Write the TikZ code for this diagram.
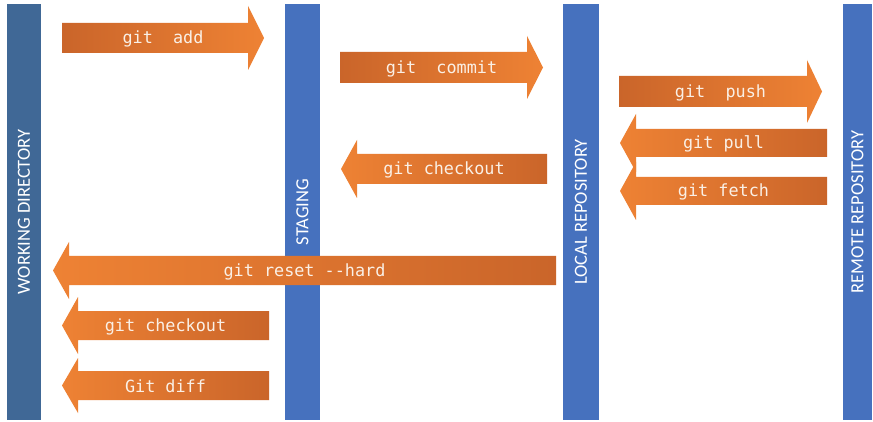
\documentclass[tikz,border=0pt]{standalone}
\usepackage{fontspec}
\newfontfamily\cmdfont{DejaVu Sans Mono}
\newfontfamily\labfont{Carlito}
\definecolor{wdblue}{RGB}{64,104,150}
\definecolor{barblue}{RGB}{70,113,190}
\definecolor{orlight}{RGB}{238,130,52}
\definecolor{ordark}{RGB}{202,101,42}
\definecolor{cmdtext}{RGB}{250,240,230}
\begin{document}
\begin{tikzpicture}[x=1pt,y=-1pt,
  bar/.style={rectangle, inner sep=0pt, rotate=90, minimum width=416pt, text=white,
    font=\labfont\fontsize{18.5}{22}\selectfont},
  cmd/.style={text=cmdtext, inner sep=0pt, font=\cmdfont\fontsize{16.8}{20}\selectfont},
  rarr/.style={left color=ordark, right color=orlight},
  larr/.style={left color=orlight, right color=ordark}]
\useasboundingbox[fill=white] (0,0) rectangle (873,422);
% bars
\node[bar, fill=wdblue, minimum height=34pt] (wd) at (24,212) {WORKING DIRECTORY};
\node[bar, fill=barblue, minimum height=35pt] (stg) at (302.5,212) {STAGING};
\node[bar, fill=barblue, minimum height=36pt] (loc) at (581,212) {LOCAL REPOSITORY};
\node[bar, fill=barblue, minimum height=29pt] (rem) at (857.5,212) {REMOTE REPOSITORY};
% arrows
\shade[rarr] (62,23) -- (248,23) -- (248,6) -- (264,38) -- (248,70) -- (248,53) -- (62,53) -- cycle;
\shade[rarr] (340,52) -- (527,52) -- (527,36) -- (543,67.5) -- (527,99) -- (527,83) -- (340,83) -- cycle;
\shade[larr] (547,154) -- (357,154) -- (357,140) -- (341,169) -- (357,198) -- (357,184) -- (547,184) -- cycle;
\shade[rarr] (619,76) -- (807,76) -- (807,60) -- (822,91.5) -- (807,123) -- (807,107) -- (619,107) -- cycle;
\shade[larr] (827,129) -- (636,129) -- (636,114) -- (620,143) -- (636,172) -- (636,157) -- (827,157) -- cycle;
\shade[larr] (827,177) -- (636,177) -- (636,162) -- (620,191) -- (636,220) -- (636,205) -- (827,205) -- cycle;
\shade[larr] (556,256) -- (69,256) -- (69,242) -- (53,270.5) -- (69,299) -- (69,285) -- (556,285) -- cycle;
\shade[larr] (269,311) -- (78,311) -- (78,297) -- (62,325.5) -- (78,354) -- (78,340) -- (269,340) -- cycle;
\shade[larr] (269,371) -- (78,371) -- (78,358) -- (62,385.5) -- (78,413) -- (78,400) -- (269,400) -- cycle;
% labels
\node[cmd] (add) at (163,39) {git\ \ add};
\node[cmd] (commit) at (441.5,68.5) {git\ \ commit};
\node[cmd] (chk1) at (444,170) {git checkout};
\node[cmd] (push) at (720.5,92.5) {git\ \ push};
\node[cmd] (pull) at (723.5,144) {git pull};
\node[cmd] (fetch) at (723.5,192) {git fetch};
\node[cmd] (reset) at (304.5,271.5) {git reset -\kern0pt-hard};
\node[cmd] (chk2) at (165.5,326.5) {git checkout};
\node[cmd] (diff) at (165.5,386.5) {Git diff};
\end{tikzpicture}
\end{document}
